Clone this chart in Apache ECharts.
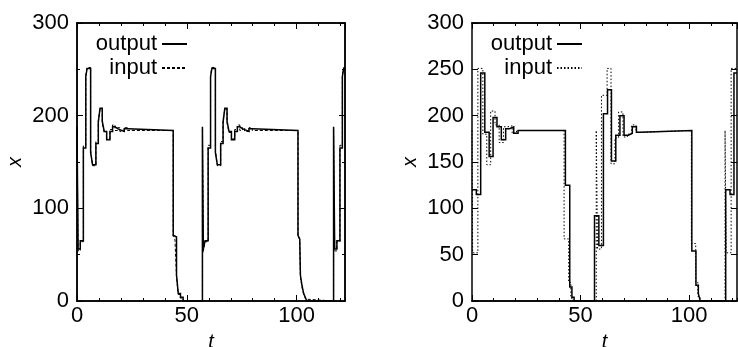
<!DOCTYPE html>
<html>
<head>
<meta charset="utf-8">
<script src="https://cdn.jsdelivr.net/npm/echarts@6/dist/echarts.min.js"></script>
<style>
html, body { margin: 0; padding: 0; background: #fff; }
#chart { width: 738px; height: 347px; }
</style>
</head>
<body>
<div id="chart"></div>
<script>
// breakpoints (t) and held values of the stepped signals
const leftOutT = [0, 0.5, 1.5, 2.9, 4, 4.6, 6.2, 7.1, 8.6, 9.7, 10.5, 11.5, 12.4, 13.5, 15, 16.2, 17.3, 18.5, 19.5, 21.5, 23,
    43.8, 44.6, 45.3, 46.1, 47.1, 48.3,
    57.1, 57.5, 58.3, 59.7, 60.8, 61.4, 63, 63.9, 65.4, 66.5, 67.3, 68.3, 69.2, 70.3, 71.8, 73, 74.1, 75.3, 76.3, 78.3, 79.8,
    100.6, 101.4, 101.7, 102.4, 103.2, 104.1, 104.7,
    116.8, 117.3, 118.3, 119.7, 120.8, 121.4, 122];
const leftOutV = [188, 56, 65, 165, 242, 251, 160, 147, 170, 193, 208, 194, 183, 174, 183, 188, 186, 185, 183, 186, 184,
    71, 69, 28, 8, 4, 0,
    188, 56, 65, 165, 242, 251, 160, 147, 170, 193, 208, 194, 183, 174, 183, 188, 186, 185, 183, 186, 184,
    71, 67, 28, 17, 8, 3, 0,
    188, 56, 65, 165, 242, 251, 251];
const leftInV = [186, 54, 64, 168, 244, 252, 163, 146, 172, 195, 207, 192, 182, 175, 185, 190, 184, 187, 183, 187, 184,
    70, 66, 26, 7, 3, 0,
    186, 54, 64, 168, 244, 252, 163, 146, 172, 195, 207, 192, 182, 175, 185, 190, 184, 187, 183, 187, 184,
    70, 66, 26, 15, 7, 2, 0,
    186, 54, 64, 168, 244, 252, 252];

const rightOutT = [0, 2, 4, 5.9, 7.9, 9.7, 11.5, 13.5, 15.5, 17.3, 19.2, 21.2,
    43, 45, 46, 47,
    56.4, 58.4, 60.5, 62.4, 64.2, 66.2, 68.1, 70, 72, 73.8, 75.7, 77.5,
    101.2, 103.1, 104.2, 105.1,
    116.8, 118.8, 120.6, 122];
const rightOutV = [120, 115, 246, 182, 156, 198, 188, 174, 186, 188, 181, 184,
    125, 15, 4, 0,
    92, 60, 202, 228, 151, 179, 200, 179, 181, 188, 182, 184,
    54, 17, 8, 0,
    120, 115, 246, 246];
const rightInT = [0, 0.3, 2.7, 5, 6.8, 8.6, 10.6, 12.5, 14.5, 16.5, 18.5, 20.5,
    42.4, 44.5, 45.5, 46.5,
    57.2, 57.8, 59.6, 62.2, 64, 65.8, 67.5, 69.5, 71.5, 73.5, 75.5, 77.5,
    101, 103, 104, 105,
    116.5, 117, 119.3, 122];
const rightInV = [184, 52, 251, 180, 147, 205, 190, 171, 188, 189, 181, 184,
    67, 20, 3, 0,
    184, 56, 222, 251, 148, 176, 204, 177, 180, 190, 182, 184,
    62, 20, 5, 0,
    184, 52, 251, 251];

const legendNames = { out1: 'output', in1: 'input', out2: 'output', in2: 'input' };

const FONT = 'Liberation Sans';
const chart = echarts.init(document.getElementById('chart'));

// sample-and-hold: each value is kept until the next breakpoint
function stepPairs(T, V) {
    const res = [[T[0], V[0]]];
    for (let i = 1; i < T.length; i++) {
        res.push([T[i], V[i - 1]]);
        res.push([T[i], V[i]]);
    }
    return res;
}

function xAx(grid, pos, interval, len, labels, name) {
    return {
        type: 'value', gridIndex: grid, position: pos, min: 0, max: 122, interval: interval,
        axisLine: { show: true, onZero: false, lineStyle: { color: '#000', width: 1.5 } },
        axisTick: { show: true, inside: true, length: len, lineStyle: { color: '#000', width: 1 } },
        axisLabel: { show: labels, color: '#000', fontSize: 22, fontFamily: FONT, margin: 4, showMaxLabel: false },
        splitLine: { show: false },
        name: name || '', nameLocation: 'middle', nameGap: 31,
        nameTextStyle: { color: '#000', fontSize: 20, fontStyle: 'italic', fontFamily: FONT }
    };
}

function yAx(grid, pos, interval, len, labels, name) {
    return {
        type: 'value', gridIndex: grid, position: pos, min: 0, max: 300, interval: interval,
        axisLine: { show: true, onZero: false, lineStyle: { color: '#000', width: 1.5 } },
        axisTick: { show: true, inside: true, length: len, lineStyle: { color: '#000', width: 1 } },
        axisLabel: { show: labels, color: '#000', fontSize: 22, fontFamily: FONT, margin: 8 },
        splitLine: { show: false },
        name: name || '', nameLocation: 'middle', nameGap: 52, nameRotate: 90,
        nameTextStyle: { color: '#000', fontSize: 20, fontStyle: 'italic', fontFamily: FONT }
    };
}

function legend(name, top, right) {
    return {
        data: [name], top: top, right: right, align: 'right', orient: 'vertical',
        padding: 0, itemWidth: 25, itemHeight: 12, selectedMode: false,
        itemStyle: { opacity: 0 },
        formatter: (n) => legendNames[n],
        textStyle: { color: '#000', fontSize: 22, fontFamily: FONT, lineHeight: 22 }
    };
}

function line(name, data, xi, yi, width, dash) {
    return {
        name: name, type: 'line', data: data, xAxisIndex: xi, yAxisIndex: yi,
        symbol: 'none', animation: false,
        lineStyle: { color: '#000', width: width, type: dash, join: 'miter' },
        itemStyle: { color: '#000' }
    };
}

chart.setOption({
    animation: false,
    grid: [
        { left: 77, top: 23, width: 268, height: 278, containLabel: false, outerBoundsMode: 'none' },
        { left: 472, top: 23, width: 265, height: 278, containLabel: false, outerBoundsMode: 'none' }
    ],
    xAxis: [
        xAx(0, 'bottom', 50, 6, true, 't'),
        xAx(0, 'bottom', 10, 3, false),
        xAx(0, 'top', 50, 6, false),
        xAx(0, 'top', 10, 3, false),
        xAx(1, 'bottom', 50, 6, true, 't'),
        xAx(1, 'bottom', 10, 3, false),
        xAx(1, 'top', 50, 6, false),
        xAx(1, 'top', 10, 3, false)
    ],
    yAxis: [
        yAx(0, 'left', 100, 6, true, 'x'),
        yAx(0, 'left', 50, 3, false),
        yAx(0, 'right', 100, 6, false),
        yAx(0, 'right', 50, 3, false),
        yAx(1, 'left', 50, 6, true, 'x'),
        yAx(1, 'right', 50, 6, false)
    ],
    legend: [
        legend('out1', 33, 550),
        legend('in1', 57, 550),
        legend('out2', 33, 155),
        legend('in2', 57, 155)
    ],
    series: [
        line('in1', stepPairs(leftOutT, leftInV), 0, 0, 1, [3, 2]),
        line('out1', stepPairs(leftOutT, leftOutV), 0, 0, 1.5, 'solid'),
        line('in2', stepPairs(rightInT, rightInV), 4, 4, 1, [1.5, 2]),
        line('out2', stepPairs(rightOutT, rightOutV), 4, 4, 1.5, 'solid')
    ]
});
</script>
</body>
</html>
